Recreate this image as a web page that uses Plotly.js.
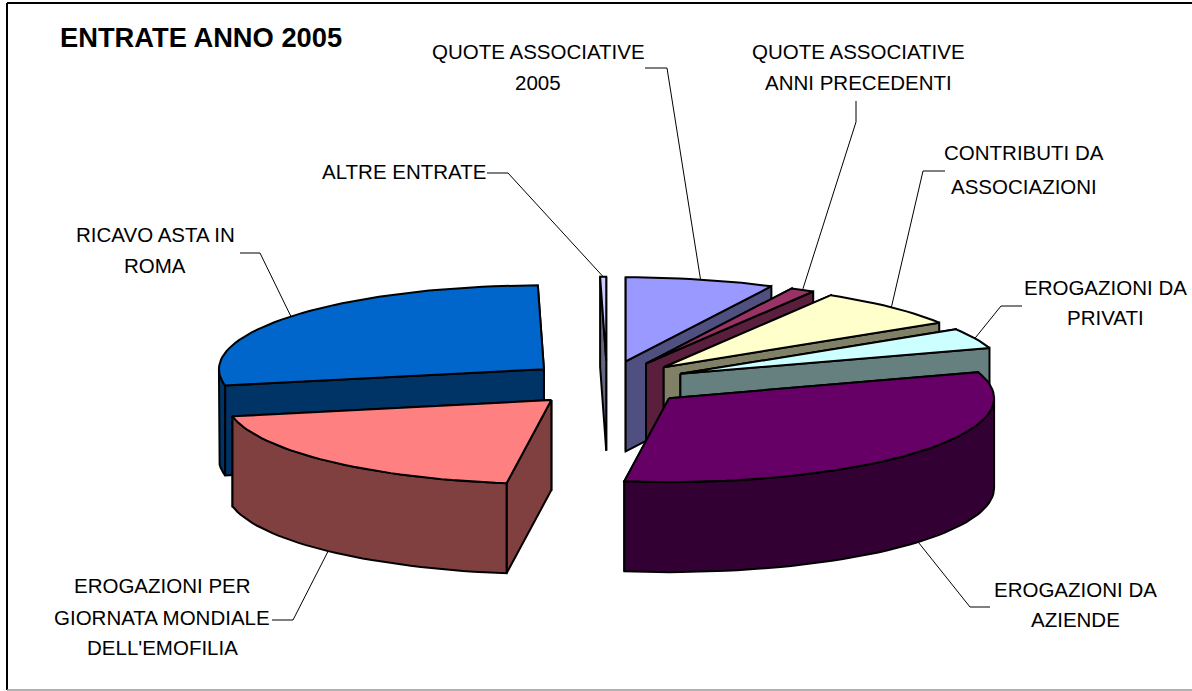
<!DOCTYPE html>
<html>
<head>
<meta charset="utf-8">
<script src="https://cdn.plot.ly/plotly-3.0.1.min.js"></script>
<style>html,body{margin:0;padding:0;background:#fff}#chart{width:1192px;height:691px}</style>
</head>
<body>
<div id="chart"></div>
<script>
// Data: estimated shares of the pie (%), clockwise from 12 o'clock
var categories = [
  'QUOTE ASSOCIATIVE 2005','QUOTE ASSOCIATIVE ANNI PRECEDENTI','CONTRIBUTI DA ASSOCIAZIONI',
  'EROGAZIONI DA PRIVATI','EROGAZIONI DA AZIENDE','EROGAZIONI PER GIORNATA MONDIALE DELL\'EMOFILIA',
  'RICAVO ASTA IN ROMA','ALTRE ENTRATE'];
var values = [7.4, 1.2, 7.5, 3.9, 32.2, 19.7, 27.8, 0.3];
var topColors  = ['#9999FF','#993366','#FFFFCC','#CCFFFF','#660066','#FF8080','#0066CC','#CCCCFF'];
var sideColors = ['#505080','#5A1F3C','#808066','#668080','#330033','#804040','#003366','#666680'];
var labelLines = [
  ['QUOTE ASSOCIATIVE','2005'],['QUOTE ASSOCIATIVE','ANNI PRECEDENTI'],['CONTRIBUTI DA','ASSOCIAZIONI'],
  ['EROGAZIONI DA','PRIVATI'],['EROGAZIONI DA','AZIENDE'],['EROGAZIONI PER','GIORNATA MONDIALE','DELL\'EMOFILIA'],
  ['RICAVO ASTA IN','ROMA'],['ALTRE ENTRATE']];
var titleText = 'ENTRATE ANNO 2005';

// Layout of the drawing
var cx = 607, cy = 383.5, ex = 81, ey = 22.8, rx = 325, ry = 84, depth = 90;
var labelX = [538, 858, 1024, 1105, 1075, 162, 155, 404];
var labelY = [[51,82],[51,82],[152,186],[287,317],[589,619],[585,617,647],[234,265],[171]];
// leader knees, one list per slice, going from the rim to the label
var knees = [[[667,68],[645,68]],[[856,122],[856,101]],[[923,171],[945,171]],[[1001,306],[1022,306]],
             [[970,607],[990,607]],[[293,620],[272,620]],[[260,253],[240,253]],[[508,173],[487,173]]];

var total = values.reduce(function(a,b){return a+b;},0);
var slices = [], acc = 0;
values.forEach(function(v,i){
  var a0 = acc/total*360, a1 = (acc+v)/total*360; acc += v;
  var m = (a0+a1)/2*Math.PI/180;
  slices.push({i:i,a0:a0,a1:a1,mid:(a0+a1)/2,ax:cx+ex*Math.sin(m),ay:cy-ey*Math.cos(m)});
});
function rim(s,deg){var t=deg*Math.PI/180;return [s.ax+rx*Math.sin(t),s.ay-ry*Math.cos(t)];}
function poly(pts,fill){
  return {type:'scatter',mode:'lines',x:pts.map(function(p){return p[0];}).concat(pts[0][0]),
    y:pts.map(function(p){return p[1];}).concat(pts[0][1]),fill:'toself',fillcolor:fill,
    line:{color:'#000',width:2,shape:'linear'},hoverinfo:'skip',showlegend:false};
}
function arc(s,d0,d1){var out=[],n=Math.max(2,Math.ceil(Math.abs(d1-d0)/2));
  for(var k=0;k<=n;k++)out.push(rim(s,d0+(d1-d0)*k/n));return out;}
function down(p){return [p[0],p[1]+depth];}

var traces=[];
// painter's order: far slices first
var order=[7,0,1,2,3,6,5,4];
order.forEach(function(idx){
  var s=slices[idx], side=sideColors[idx];
  var apex=[s.ax,s.ay];
  var faces=[s.a0,s.a1].map(function(d){var r=rim(s,d);return {y:r[1],pts:[apex,r,down(r),down(apex)]};});
  faces.sort(function(a,b){return a.y-b.y;});
  faces.forEach(function(f){traces.push(poly(f.pts,side));});
  var w0=Math.max(s.a0,90), w1=Math.min(s.a1,270);
  if(w1>w0){
    var a=arc(s,w0,w1);
    traces.push(poly(a.concat(a.slice().reverse().map(down)),side));
  }
  traces.push(poly([apex].concat(arc(s,s.a0,s.a1)),topColors[idx]));
});
// leader lines from each slice's mid-angle rim
slices.forEach(function(s,i){
  var r=rim(s,s.mid);
  if(s.mid>90&&s.mid<270) r=down(r);
  var pts=[r].concat(knees[i]);
  traces.push({type:'scatter',mode:'lines',x:pts.map(function(p){return p[0];}),y:pts.map(function(p){return p[1];}),
    line:{color:'#000',width:1},hoverinfo:'skip',showlegend:false});
});

var annotations=[{x:58,y:37,xref:'x',yref:'y',xanchor:'left',yanchor:'middle',showarrow:false,text:'<b>'+titleText+'</b>',
  font:{family:'Liberation Sans',size:27.3,color:'#000'}}];
labelLines.forEach(function(lines,i){
  lines.forEach(function(t,j){
    annotations.push({x:labelX[i],y:labelY[i][j],xref:'x',yref:'y',xanchor:'center',yanchor:'middle',showarrow:false,text:t,
      font:{family:'Liberation Sans',size:20.5,color:'#000'}});
  });
});

var layout={width:1192,height:691,margin:{l:0,r:0,t:0,b:0},paper_bgcolor:'#fff',plot_bgcolor:'#fff',showlegend:false,
  xaxis:{range:[0,1192],visible:false,fixedrange:true},
  yaxis:{range:[691,0],visible:false,fixedrange:true},
  annotations:annotations,
  shapes:[
    {type:'line',xref:'paper',yref:'paper',x0:7/1192,x1:1,y0:1-3/691,y1:1-3/691,line:{color:'#000',width:2}},
    {type:'line',xref:'paper',yref:'paper',x0:7/1192,x1:7/1192,y0:1-3/691,y1:1-690/691,line:{color:'#000',width:2}},
    {type:'line',xref:'paper',yref:'paper',x0:7/1192,x1:1,y0:1-690/691,y1:1-690/691,line:{color:'#999',width:1.5}}
  ]};
Plotly.newPlot('chart',traces,layout,{displayModeBar:false,staticPlot:true});
</script>
</body>
</html>
